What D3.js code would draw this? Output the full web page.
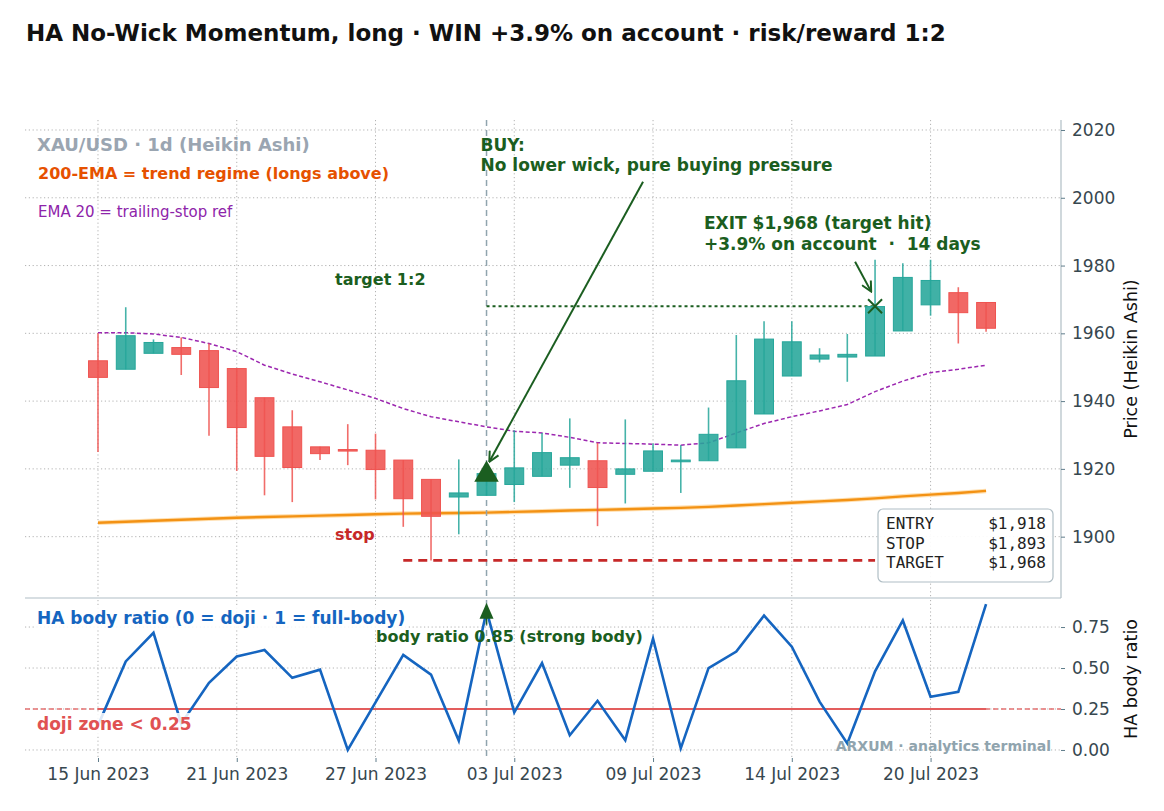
<!DOCTYPE html>
<html>
<head>
<meta charset="utf-8">
<script src="https://cdn.jsdelivr.net/npm/d3@7"></script>
<style>
  body { margin: 0; background: #fff; }
  svg { display: block; font-family: "DejaVu Sans", sans-serif; }
</style>
</head>
<body>
<script>
// Heikin Ashi candles, XAU/USD daily
const haOpen  = [1951.9, 1949.4, 1954.1, 1955.8, 1954.9, 1949.6, 1941.0, 1932.4, 1926.5, 1925.7, 1925.5,
                 1922.6, 1916.9, 1911.7, 1912.2, 1915.4, 1917.8, 1921.1, 1922.4, 1918.4, 1919.3, 1922.1,
                 1922.4, 1926.2, 1936.2, 1947.4, 1952.4, 1953.0, 1953.3, 1960.7, 1968.4, 1972.0, 1969.1]
const haClose = [1947.0, 1959.3, 1957.3, 1953.8, 1944.0, 1932.2, 1923.7, 1920.4, 1924.5, 1925.3, 1919.8,
                 1911.2, 1906.0, 1912.9, 1918.6, 1920.3, 1924.8, 1923.3, 1914.5, 1920.0, 1925.3, 1922.6,
                 1930.2, 1946.0, 1958.3, 1957.5, 1953.6, 1953.8, 1967.9, 1976.5, 1975.6, 1966.1, 1961.5]
const haHigh  = [1960.0, 1967.7, 1958.2, 1958.8, 1957.0, 1949.6, 1941.0, 1937.3, 1926.5, 1933.2, 1930.4,
                 1922.6, 1916.9, 1922.8, 1920.5, 1931.4, 1930.6, 1934.9, 1927.7, 1934.6, 1927.5, 1927.0,
                 1938.1, 1959.5, 1963.6, 1963.6, 1955.6, 1959.8, 1981.7, 1980.7, 1981.7, 1973.6, 1969.1]
const haLow   = [1925.0, 1949.4, 1954.1, 1947.7, 1929.8, 1919.4, 1912.2, 1910.2, 1922.6, 1921.1, 1911.0,
                 1902.9, 1893.0, 1900.7, 1912.2, 1910.2, 1917.8, 1914.4, 1903.1, 1909.8, 1919.3, 1912.9,
                 1922.4, 1926.2, 1936.2, 1947.4, 1951.4, 1945.7, 1953.3, 1960.7, 1965.2, 1957.0, 1960.5]

const ema20  = [1960.2, 1960.2, 1959.8, 1958.8, 1957.0, 1954.6, 1950.6, 1948.0, 1945.7, 1943.3, 1940.8,
                1937.8, 1935.4, 1933.9, 1932.4, 1931.1, 1930.6, 1929.3, 1927.7, 1927.5, 1927.3, 1927.0,
                1927.7, 1930.6, 1933.4, 1935.4, 1937.1, 1939.0, 1942.8, 1945.9, 1948.4, 1949.4, 1950.6]
const ema200 = [1904.1, 1904.4, 1904.7, 1905.0, 1905.3, 1905.6, 1905.8, 1906.0, 1906.2, 1906.4, 1906.6,
                1906.8, 1906.9, 1907.0, 1907.1, 1907.3, 1907.5, 1907.7, 1907.9, 1908.1, 1908.3, 1908.5,
                1908.8, 1909.2, 1909.6, 1910.0, 1910.4, 1910.8, 1911.3, 1911.9, 1912.4, 1912.9, 1913.5]

const bodyRatio = [0.15, 0.54, 0.715, 0.16, 0.41, 0.57, 0.61, 0.44, 0.49, 0.00, 0.29,
                   0.58, 0.46, 0.057, 0.85, 0.23, 0.53, 0.09, 0.30, 0.06, 0.68, 0.01,
                   0.50, 0.60, 0.82, 0.63, 0.295, 0.04, 0.48, 0.79, 0.325, 0.355, 0.89]

const tickIdx    = [0, 5, 10, 15, 20, 25, 30]
const tickLabels = ["15 Jun 2023", "21 Jun 2023", "27 Jun 2023", "03 Jul 2023", "09 Jul 2023", "14 Jul 2023", "20 Jul 2023"]
const priceTicks = [1900, 1920, 1940, 1960, 1980, 2000, 2020]
const ratioTicks = [0, 0.25, 0.5, 0.75]

// trade
const entryIdx = 14, exitIdx = 28, stopStartIdx = 11
const entry = 1918, stop = 1893, target = 1968
const dojiLevel = 0.25

const WIDTH = 1164
const HEIGHT = 811
const PLOT = { left: 25, right: 1061, top: 120, mid: 598, low: 600, bottom: 758 }

const GREEN = "#1b5e20"
const UP = "#26a69a", DOWN = "#ef5350"

const svg = d3.select("body").append("svg")
    .attr("width", WIDTH)
    .attr("height", HEIGHT)

const x = d3.scaleLinear().domain([-2.63, 34.7]).range([PLOT.left, PLOT.right])
const y = d3.scaleLinear().domain([1881.9, 2022.95]).range([PLOT.mid, PLOT.top])
const y2 = d3.scaleLinear().domain([-0.049, 0.915]).range([PLOT.bottom, PLOT.low])

const defs = svg.append("defs")
defs.append("marker")
    .attr("id", "head")
    .attr("viewBox", "0 0 12 12")
    .attr("refX", 11).attr("refY", 6)
    .attr("markerWidth", 12).attr("markerHeight", 12)
    .attr("markerUnits", "userSpaceOnUse")
    .attr("orient", "auto")
    .append("path")
    .attr("d", "M1,1 L11,6 L1,11")
    .attr("fill", "none")
    .attr("stroke", GREEN)
    .attr("stroke-width", 2)

// grid
const grid = svg.append("g")
    .attr("stroke", "#aaaaaa")
    .attr("stroke-width", 0.9)
    .attr("stroke-dasharray", "1.2,2.6")

grid.selectAll(".vg1")
    .data(tickIdx)
    .enter().append("line")
    .attr("x1", d => x(d)).attr("x2", d => x(d))
    .attr("y1", PLOT.top).attr("y2", PLOT.mid)
grid.selectAll(".vg2")
    .data(tickIdx)
    .enter().append("line")
    .attr("x1", d => x(d)).attr("x2", d => x(d))
    .attr("y1", PLOT.low).attr("y2", PLOT.bottom)
grid.selectAll(".hg1")
    .data(priceTicks)
    .enter().append("line")
    .attr("x1", PLOT.left).attr("x2", PLOT.right)
    .attr("y1", d => y(d)).attr("y2", d => y(d))
grid.selectAll(".hg2")
    .data(ratioTicks)
    .enter().append("line")
    .attr("x1", PLOT.left).attr("x2", PLOT.right)
    .attr("y1", d => y2(d)).attr("y2", d => y2(d))

// spines of price panel
svg.append("line")
    .attr("x1", PLOT.right).attr("x2", PLOT.right)
    .attr("y1", PLOT.top).attr("y2", PLOT.mid)
    .attr("stroke", "#b0bec5").attr("stroke-width", 1.2)
svg.append("line")
    .attr("x1", PLOT.left).attr("x2", PLOT.right)
    .attr("y1", PLOT.mid).attr("y2", PLOT.mid)
    .attr("stroke", "#b0bec5").attr("stroke-width", 1.2)

// 200-EMA
const lineFn = d3.line().x((d, i) => x(i)).y(d => y(d))
svg.append("path")
    .datum(ema200)
    .attr("d", lineFn)
    .attr("fill", "none")
    .attr("stroke", "#ffe0b2")
    .attr("stroke-width", 4.5)
svg.append("path")
    .datum(ema200)
    .attr("d", lineFn)
    .attr("fill", "none")
    .attr("stroke", "#f39214")
    .attr("stroke-width", 2.4)

// EMA 20
svg.append("path")
    .datum(ema20)
    .attr("d", lineFn)
    .attr("fill", "none")
    .attr("stroke", "#9c27b0")
    .attr("stroke-width", 1.5)
    .attr("stroke-dasharray", "4,2.5")

// entry vertical line across both panels
svg.append("line")
    .attr("x1", x(entryIdx)).attr("x2", x(entryIdx))
    .attr("y1", PLOT.top).attr("y2", PLOT.bottom)
    .attr("stroke", "#90a4ae")
    .attr("stroke-width", 1.5)
    .attr("stroke-dasharray", "6,4")

// stop and target lines
svg.append("line")
    .attr("x1", x(stopStartIdx)).attr("x2", x(exitIdx))
    .attr("y1", y(stop)).attr("y2", y(stop))
    .attr("stroke", "#c62828")
    .attr("stroke-width", 2.6)
    .attr("stroke-dasharray", "9,6")
svg.append("line")
    .attr("x1", x(entryIdx)).attr("x2", x(exitIdx))
    .attr("y1", y(target)).attr("y2", y(target))
    .attr("stroke", GREEN)
    .attr("stroke-width", 2)
    .attr("stroke-dasharray", "3,3")

// candles
const bw = (x(1) - x(0)) * 0.68
const candles = svg.append("g")
haOpen.forEach((o, i) => {
    const c = haClose[i]
    const col = c >= o ? UP : DOWN
    candles.append("line")
        .attr("x1", x(i)).attr("x2", x(i))
        .attr("y1", y(haHigh[i])).attr("y2", y(haLow[i]))
        .attr("stroke", col)
        .attr("stroke-opacity", 0.85)
        .attr("stroke-width", 1.6)
    candles.append("rect")
        .attr("x", x(i) - bw / 2)
        .attr("y", y(Math.max(o, c)))
        .attr("width", bw)
        .attr("height", Math.max(1.5, Math.abs(y(o) - y(c))))
        .attr("fill", col)
        .attr("fill-opacity", 0.88)
        .attr("stroke", col)
        .attr("stroke-width", 1)
})

// entry and exit markers
const tri = d3.symbol().type(d3.symbolTriangle).size(260)
svg.append("path")
    .attr("d", tri)
    .attr("transform", `translate(${x(entryIdx)},${y(entry) - 1})`)
    .attr("fill", GREEN)
svg.append("path")
    .attr("d", "M-7,-7 L7,7 M-7,7 L7,-7")
    .attr("transform", `translate(${x(exitIdx)},${y(target)})`)
    .attr("stroke", GREEN)
    .attr("stroke-width", 2)

// annotation arrows
svg.append("line")
    .attr("x1", x(19.64)).attr("y1", y(2004.7))
    .attr("x2", x(14.1)).attr("y2", y(1922.1))
    .attr("stroke", GREEN).attr("stroke-width", 2)
    .attr("marker-end", "url(#head)")
svg.append("line")
    .attr("x1", x(27.28)).attr("y1", y(1981.1))
    .attr("x2", x(27.86)).attr("y2", y(1972.3))
    .attr("stroke", GREEN).attr("stroke-width", 2)
    .attr("marker-end", "url(#head)")

// texts, price panel
const txt = (tx, ty, s, size, color, weight) =>
    svg.append("text")
        .attr("x", tx).attr("y", ty)
        .attr("font-size", size)
        .attr("font-weight", weight || "bold")
        .attr("fill", color)
        .style("white-space", "pre")
        .text(s)

txt(26, 41, "HA No-Wick Momentum, long · WIN +3.9% on account · risk/reward 1:2", 23, "#111")
txt(37, 151, "XAU/USD · 1d (Heikin Ashi)", 18, "#9aa5b1")
txt(38, 179, "200-EMA = trend regime (longs above)", 16, "#e65100")
txt(38, 217, "EMA 20 = trailing-stop ref", 15, "#8e24aa", "normal")
txt(x(entryIdx) - 6, 151, "BUY:", 17, GREEN)
txt(x(entryIdx) - 6, 171, "No lower wick, pure buying pressure", 17, GREEN)
txt(704, 229, "EXIT $1,968 (target hit)", 17, GREEN)
txt(704, 250, "+3.9% on account  ·  14 days", 17, GREEN)
txt(335, 285, "target 1:2", 16, GREEN)
txt(335, 540, "stop", 16, "#c62828")

// info box
const box = svg.append("g").attr("transform", "translate(878,509)")
box.append("rect")
    .attr("width", 175).attr("height", 73)
    .attr("rx", 5)
    .attr("fill", "#fff").attr("fill-opacity", 0.92)
    .attr("stroke", "#b0bec5").attr("stroke-width", 1.2)
const boxRows = [["ENTRY", entry], ["STOP", stop], ["TARGET", target]]
boxRows.forEach((r, i) => {
    box.append("text")
        .attr("x", 8).attr("y", 20 + i * 19.5)
        .attr("font-family", "DejaVu Sans Mono, monospace")
        .attr("font-size", 16).attr("fill", "#222")
        .text(r[0])
    box.append("text")
        .attr("x", 168).attr("y", 20 + i * 19.5)
        .attr("text-anchor", "end")
        .attr("font-family", "DejaVu Sans Mono, monospace")
        .attr("font-size", 16).attr("fill", "#222")
        .text("$" + d3.format(",")(r[1]))
})

// lower panel: body ratio
svg.append("line")
    .attr("x1", PLOT.left).attr("x2", PLOT.right)
    .attr("y1", y2(dojiLevel)).attr("y2", y2(dojiLevel))
    .attr("stroke", "#e57373").attr("stroke-width", 1.3)
    .attr("stroke-dasharray", "5,3")
svg.append("line")
    .attr("x1", x(0)).attr("x2", x(bodyRatio.length - 1))
    .attr("y1", y2(dojiLevel)).attr("y2", y2(dojiLevel))
    .attr("stroke", "#e35d5d").attr("stroke-width", 2)

svg.append("path")
    .datum(bodyRatio)
    .attr("d", d3.line().x((d, i) => x(i)).y(d => y2(d)))
    .attr("fill", "none")
    .attr("stroke", "#1565c0")
    .attr("stroke-width", 2.6)
    .attr("stroke-linejoin", "miter")

// labels with white backing
const labelBg = (tx, ty, s, size, color) => {
    const t = txt(tx, ty, s, size, color)
    const b = t.node().getBBox()
    svg.insert("rect", () => t.node())
        .attr("x", b.x - 3).attr("y", b.y - 1)
        .attr("width", b.width + 6).attr("height", b.height + 2)
        .attr("fill", "#fff").attr("fill-opacity", 0.85)
    return t
}
labelBg(37, 624, "HA body ratio (0 = doji · 1 = full-body)", 17, "#1565c0")
labelBg(37, 730, "doji zone < 0.25", 17, "#e05252")
txt(376, 642, "body ratio 0.85 (strong body)", 16, GREEN)
txt(1051, 751, "ARXUM · analytics terminal", 14, "#90a4ae").attr("text-anchor", "end")

// arrow to the 0.85 point
svg.append("line")
    .attr("x1", x(entryIdx)).attr("x2", x(entryIdx))
    .attr("y1", y2(0.85) + 14).attr("y2", y2(0.85))
    .attr("stroke", GREEN).attr("stroke-width", 1.5)
svg.append("path")
    .attr("d", "M0,0 L7,16 L-7,16 Z")
    .attr("transform", `translate(${x(entryIdx)},${y2(0.85) - 8})`)
    .attr("fill", GREEN)

// axes
const styleAxis = g => {
    g.select(".domain").remove()
    g.selectAll(".tick line").attr("stroke", "#607d8b")
    g.selectAll(".tick text")
        .attr("fill", "#37474f")
        .attr("font-size", 17)
        .attr("font-family", "DejaVu Sans, sans-serif")
}
svg.append("g")
    .attr("transform", `translate(${PLOT.right},0)`)
    .call(d3.axisRight(y).tickValues(priceTicks).tickFormat(d3.format("d")).tickSize(4).tickPadding(7))
    .call(styleAxis)
svg.append("g")
    .attr("transform", `translate(${PLOT.right},0)`)
    .call(d3.axisRight(y2).tickValues(ratioTicks).tickFormat(d3.format(".2f")).tickSize(4).tickPadding(7))
    .call(styleAxis)
svg.append("g")
    .attr("transform", `translate(0,${PLOT.bottom})`)
    .call(d3.axisBottom(x).tickValues(tickIdx).tickFormat((d, i) => tickLabels[i]).tickSize(4).tickPadding(6))
    .call(styleAxis)

svg.append("text")
    .attr("transform", `translate(1137,${(PLOT.top + PLOT.mid) / 2}) rotate(-90)`)
    .attr("text-anchor", "middle")
    .attr("font-size", 17.5).attr("fill", "#111")
    .text("Price (Heikin Ashi)")
svg.append("text")
    .attr("transform", `translate(1137,${(PLOT.low + PLOT.bottom) / 2}) rotate(-90)`)
    .attr("text-anchor", "middle")
    .attr("font-size", 17.5).attr("fill", "#111")
    .text("HA body ratio")
</script>
</body>
</html>
